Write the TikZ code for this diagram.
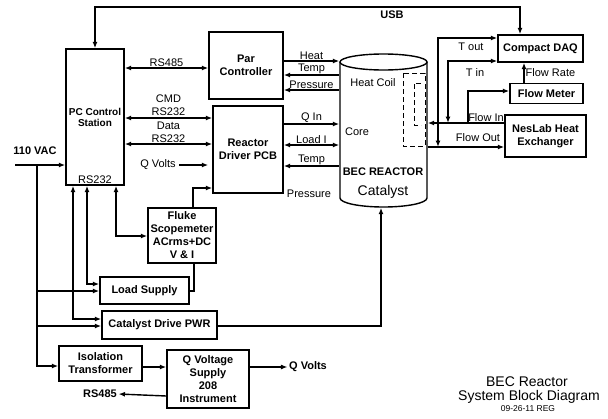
\documentclass[tikz,border=0pt]{standalone}
\usepackage{fontspec}
\setmainfont{Liberation Sans}
\usetikzlibrary{arrows.meta}
\begin{document}
\begin{tikzpicture}[x=1pt,y=-1pt,
  line width=1.4pt,
  >={Latex[length=6.5pt,width=5pt]},
  font=\fontsize{11}{13}\selectfont,
  box/.style={draw, line width=1.4pt, align=center, inner sep=1pt,
    font=\fontsize{11}{13}\selectfont\bfseries},
  lbl/.style={inner sep=1pt},
  dsh/.style={line width=1pt, dash pattern=on 5pt off 3pt}]
\useasboundingbox (0,0) rectangle (608,418);

% boxes
\node[box, minimum width=58pt, minimum height=136pt,
  font=\fontsize{10}{11}\selectfont\bfseries] (pc) at (95,117) {PC Control\\Station};
\node[lbl] (pcrs) at (95,180) {RS232};
\node[box, minimum width=74pt, minimum height=67pt] (par) at (246,65.5) {Par\\Controller};
\node[box, minimum width=70pt, minimum height=87pt] (rdp) at (248,149.5) {Reactor\\Driver PCB};
\node[box, minimum width=68pt, minimum height=55pt] (fluke) at (182,235.5) {Fluke\\Scopemeter\\ACrms+DC\\V \& I};
\node[box, minimum width=89pt, minimum height=27pt] (load) at (144.5,290.5) {Load Supply};
\node[box, minimum width=115pt, minimum height=28pt] (cat) at (159.5,325) {Catalyst Drive PWR};
\node[box, minimum width=83pt, minimum height=35pt] (iso) at (100.5,363.5) {Isolation\\Transformer};
\node[box, minimum width=82pt, minimum height=58pt] (qvs) at (208,379) {Q Voltage\\Supply\\208\\Instrument};
\node[box, minimum width=85pt, minimum height=27pt] (daq) at (540.5,48.5) {Compact DAQ};
\node[box, minimum width=73pt, minimum height=20pt] (fm) at (546.5,93.5) {Flow Meter};
\node[box, minimum width=81pt, minimum height=42pt] (nes) at (545.5,136) {NesLab Heat\\Exchanger};

% reactor cylinder
\node[minimum width=87pt, minimum height=153pt, inner sep=0pt] (reactor) at (383.5,130.5) {};
\draw (340,62) -- (340,198) arc[start angle=180, end angle=360, x radius=43.5pt, y radius=9pt] -- (427,62);
\draw (383.5,62) ellipse[x radius=43.5pt, y radius=8pt];
\draw[dsh] (403,73) rectangle (425,146);
\draw[dsh] (421,83) -- (414,83) -- (414,125) -- (421,125);
\node[lbl] (hc) at (373,83) {Heat Coil};
\node[lbl] (core) at (357,132) {Core};
\node[lbl, font=\fontsize{11}{13}\selectfont\bfseries] (bec) at (383,172) {BEC REACTOR};
\node[lbl, font=\fontsize{14}{16}\selectfont] (catl) at (383,192) {Catalyst};

% free labels
\node[lbl, font=\fontsize{11}{13}\selectfont\bfseries] (vac) at (35,151) {110 VAC};
\node[lbl, font=\fontsize{11}{13}\selectfont\bfseries] (usb) at (392,15) {USB};
\node[lbl] (qvin) at (158,165) {Q Volts};
\node[lbl] (pres) at (309,194) {Pressure};
\node[lbl, font=\fontsize{11}{13}\selectfont\bfseries] (qvout) at (308,367) {Q Volts};
\node[lbl, font=\fontsize{11}{13}\selectfont\bfseries] (rsout) at (100,394) {RS485};
\node[lbl] (toutl) at (471,47) {T out};
\node[lbl] (tinl) at (475,73) {T in};
\node[lbl] (flin) at (486,117.5) {Flow In};
\node[lbl] (flout) at (478,138) {Flow Out};
\node[lbl, font=\fontsize{14}{16}\selectfont] (t1) at (527,382) {BEC Reactor};
\node[lbl, font=\fontsize{14}{16}\selectfont] (t2) at (529,397) {System Block Diagram};
\node[lbl, font=\fontsize{8.5}{10}\selectfont] (t3) at (528,409) {09-26-11 REG};

% coordinates
\coordinate (vin) at (15,165);
\coordinate (bus) at (37,165);
\coordinate (tout) at (438,147);
\coordinate (tin) at (448,123);
\coordinate (fmin) at (468,123);

% USB
\draw[<->] (pc.north) -- (pc.north |- 0,7) -| (daq.north -| 520,0);

% PC <-> controllers
\draw[<->] (pc.east |- 0,68) -- (par.west |- 0,68) node[midway, above, lbl] {RS485};
\draw[<->] (pc.east |- 0,118) -- (rdp.west |- 0,118)
  node[midway, above, lbl, align=center, yshift=1pt] {CMD\\RS232};
\draw[<->] (pc.east |- 0,144) -- (rdp.west |- 0,144)
  node[midway, above, lbl, align=center, yshift=0pt] {Data\\RS232};
\draw[->] (qvin.east) ++(2,0) -- ([xshift=-4pt]rdp.west |- qvin);
\draw[->] (fluke.north -| 193,0) |- (rdp.west |- 0,188);

% Par controller <-> reactor
\draw[->] (par.east |- 0,61) -- (reactor.west |- 0,61) node[midway, above, lbl] {Heat};
\draw[<-] (par.east |- 0,75) -- (reactor.west |- 0,75) node[midway, above, lbl] {Temp};
\draw[<-] (par.east |- 0,90) -- (reactor.west |- 0,90) node[midway, above, lbl] {Pressure};

% Reactor driver <-> reactor
\draw[->] (rdp.east |- 0,124) -- (reactor.west |- 0,124) node[midway, above, lbl] {Q In};
\draw[<->] (rdp.east |- 0,145) -- (reactor.west |- 0,145) node[midway, above, lbl] {Load I};
\draw[<-] (rdp.east |- 0,166) -- (reactor.west |- 0,166) node[midway, above, lbl] {Temp};

% 110 VAC bus
\draw[->] (vin) -- (pc.west |- vin);
\draw[->] (bus) |- (iso.west |- 0,366);
\draw[->] (bus |- 0,291) -- (load.west |- 0,291);
\draw[->] (bus |- 0,326) -- (cat.west |- 0,326);

% PC bottom connections
\draw[<->] (pc.south -| 116,0) |- (fluke.west |- 0,236);
\draw[<->] (pc.south -| 87,0) |- (load.west |- 0,284);
\draw[<->] (pc.south -| 73,0) |- (cat.west |- 0,319);

% Fluke - load
\draw (fluke.south -| 194,0) |- (load.east |- 0,291);

% Catalyst drive -> reactor
\draw[->] (cat.east |- 0,326) -| (reactor.south -| 381,0);

% Isolation -> Q voltage supply
\draw[->] (iso.east |- 0,367) -- (qvs.west |- 0,367);
\draw[->] (qvs.east |- qvout) -- (qvout.west);
\draw[->] (qvs.west |- 0,396) -- (rsout.east);

% right side
\draw[->] (reactor.east |- 0,147) -- (nes.west |- 0,147);
\draw[->] (nes.west |- 0,123) -- (reactor.east |- 0,123);
\draw[<->] (tout) |- (daq.west |- 0,38);
\draw[<->] (tin) |- (daq.west |- 0,61);
\draw[->] (fmin) |- (fm.west |- 0,91);
\draw[->] (fm.north -| 524,0) -- (daq.south -| 524,0) node[midway, right, lbl] {Flow Rate};
\end{tikzpicture}
\end{document}
